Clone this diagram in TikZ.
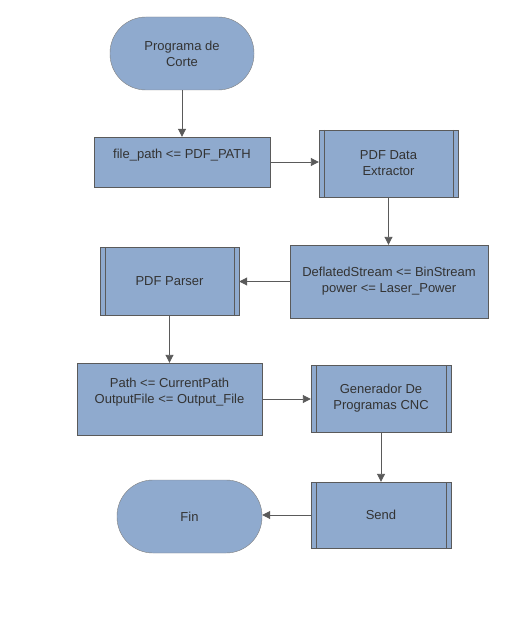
\documentclass[tikz,border=0pt]{standalone}
\usepackage{fontspec}
\setmainfont{Liberation Sans}
\usepackage{tikz}
\usetikzlibrary{arrows.meta,shadows}
\definecolor{boxblue}{HTML}{8FAACE}
\definecolor{edgegray}{HTML}{5A5A5A}
\definecolor{textgray}{HTML}{333333}

\begin{document}
\begin{tikzpicture}[x=1pt,y=-1pt,
	every node/.style={fill=boxblue,draw=edgegray,text=textgray,inner sep=0pt,align=center,font=\fontsize{13}{16}\selectfont},
	box/.style={rectangle,drop shadow={shadow xshift=1pt,shadow yshift=-1pt,opacity=.35}},
	subproc/.style={box,path picture={
		\draw[edgegray] ([xshift=5pt]path picture bounding box.north west) -- ([xshift=5pt]path picture bounding box.south west);
		\draw[edgegray] ([xshift=-5pt]path picture bounding box.north east) -- ([xshift=-5pt]path picture bounding box.south east);}},
	term/.style={rectangle,rounded corners=36pt,draw=gray},
	arrow/.style={draw=edgegray,line width=.9pt,-{Triangle[length=8pt,width=8pt]}}]
	\useasboundingbox (0,0) rectangle (513,620);

	\node[term,minimum width=144,minimum height=73] (n1) at (182,53.5) {Programa de\\Corte};
	\node[box,minimum width=176,minimum height=50] (n2) at (182,162) {file\_path <= PDF\_PATH\\\mbox{}};
	\node[subproc,minimum width=139,minimum height=67] (n3) at (388.5,163.5) {PDF Data\\Extractor};
	\node[box,minimum width=198,minimum height=73] (n4) at (389,281.5) {DeflatedStream <= BinStream\\power <= Laser\_Power};
	\node[subproc,minimum width=139,minimum height=68] (n5) at (169.5,281) {PDF Parser};
	\node[box,minimum width=185,minimum height=72] (n6) at (169.5,399) {Path <= CurrentPath\\OutputFile <= Output\_File\\\mbox{}};
	\node[subproc,minimum width=140,minimum height=67] (n7) at (381,398.5) {Generador De\\Programas CNC};
	\node[subproc,minimum width=140,minimum height=66] (n8) at (381,515) {Send};
	\node[term,minimum width=145,minimum height=73] (n9) at (189.5,516.5) {Fin};

	\draw[arrow] (n1) -- (n2);
	\draw[arrow] (n2.east) -- (n2.east -| n3.west);
	\draw[arrow] (n3.south) -- (n3.south |- n4.north);
	\draw[arrow] (n4.west) -- (n4.west -| n5.east);
	\draw[arrow] (n5) -- (n6);
	\draw[arrow] (n6.east) -- (n6.east -| n7.west);
	\draw[arrow] (n7) -- (n8);
	\draw[arrow] (n8.west) -- (n8.west -| n9.east);

\end{tikzpicture}
\end{document}
